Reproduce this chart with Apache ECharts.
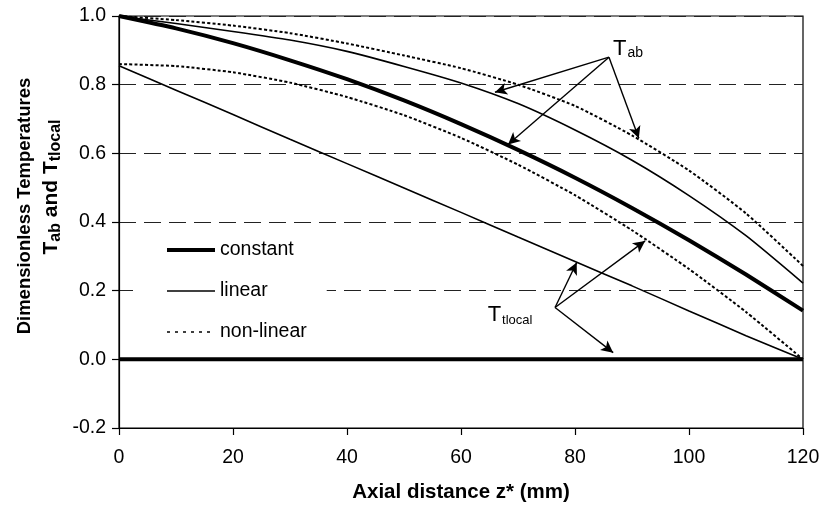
<!DOCTYPE html>
<html>
<head>
<meta charset="utf-8">
<script src="https://cdn.jsdelivr.net/npm/echarts@6/dist/echarts.min.js"></script>
<style>
html,body{margin:0;padding:0;background:#fff;}
#chart{width:822px;height:505px;}
</style>
</head>
<body>
<div id="chart"></div>
<script>
// Axial distance z* (mm)
var zValues = [0, 10, 20, 30, 40, 50, 60, 70, 80, 90, 100, 110, 120];
// T_ab (upper curves)
var tabConstant  = [1.000, 0.964, 0.921, 0.871, 0.816, 0.754, 0.685, 0.610, 0.529, 0.441, 0.347, 0.247, 0.142];
var tabLinear    = [1.000, 0.978, 0.955, 0.930, 0.897, 0.853, 0.805, 0.745, 0.668, 0.580, 0.477, 0.360, 0.222];
var tabNonLinear = [1.000, 0.988, 0.972, 0.950, 0.920, 0.885, 0.848, 0.800, 0.738, 0.652, 0.550, 0.425, 0.272];
// T_tlocal (lower curves)
var ttlConstant  = [0, 0, 0, 0, 0, 0, 0, 0, 0, 0, 0, 0, 0];
var ttlLinear    = [0.855, 0.784, 0.713, 0.641, 0.570, 0.499, 0.428, 0.356, 0.285, 0.214, 0.141, 0.069, 0.000];
var ttlNonLinear = [0.860, 0.854, 0.836, 0.806, 0.764, 0.711, 0.645, 0.567, 0.478, 0.376, 0.263, 0.138, 0.000];
// axis ticks
var xTicks = [0, 20, 40, 60, 80, 100, 120];
var yTicks = [-0.2, 0.0, 0.2, 0.4, 0.6, 0.8, 1.0];
var legendNames = ['constant', 'linear', 'non-linear'];
// annotation arrows [from z, from T, to z, to T]
var tabArrows = [[85.96, 0.880, 65.96, 0.778], [85.96, 0.880, 68.25, 0.626], [85.96, 0.880, 91.2, 0.644]];
var ttlArrows = [[76.5, 0.151, 80.3, 0.282], [76.5, 0.151, 92.3, 0.345], [76.5, 0.151, 86.7, 0.0195]];
var tabLabelAt = [89.3, 0.905];
var ttlLabelAt = [68.6, 0.128];

var FONT = '"Liberation Sans", Arial, Helvetica, sans-serif';
function pairs(arr) { return zValues.map(function (z, i) { return [z, arr[i]]; }); }
function arrows(list) {
  return list.map(function (a) { return [{coord: [a[0], a[1]]}, {coord: [a[2], a[3]]}]; });
}

var chart = echarts.init(document.getElementById('chart'), null, {renderer: 'canvas'});

var styles = {
  'constant':   {width: 4, type: 'solid', legendType: 'solid'},
  'linear':     {width: 1.6, type: 'solid', legendType: 'solid'},
  'non-linear': {width: 2, type: [3, 2.2], legendType: [3, 5]}
};
function mk(name, arr, extra) {
  var s = {
    name: name, type: 'line', data: pairs(arr), symbol: 'none', silent: true,
    animation: false, smooth: 0.2,
    lineStyle: {color: '#000', width: styles[name].width, type: styles[name].type},
    itemStyle: {color: '#000'},
    z: 3
  };
  if (extra) for (var k in extra) s[k] = extra[k];
  return s;
}

var richTab = {
  t: {fontSize: 22, fontFamily: FONT, color: '#000', lineHeight: 24},
  s: {fontSize: 14, fontFamily: FONT, color: '#000', lineHeight: 14, padding: [9, 0, 0, 1]}
};
var richTtl = {
  t: {fontSize: 22, fontFamily: FONT, color: '#000', lineHeight: 24},
  s: {fontSize: 13, fontFamily: FONT, color: '#000', lineHeight: 13, padding: [10, 0, 0, 1]}
};

var option = {
  backgroundColor: '#fff',
  animation: false,
  grid: {left: 119, right: 19, top: 16, bottom: 77, containLabel: false, outerBoundsMode: 'none',
    show: true, borderColor: '#000', borderWidth: 1.2, backgroundColor: 'transparent'},
  legend: {
    data: legendNames.map(function (n) {
      return {name: n, itemStyle: {opacity: 0},
        lineStyle: {width: n === 'non-linear' ? 1.6 : styles[n].width, type: styles[n].legendType, color: '#000'}};
    }),
    orient: 'vertical',
    left: 133, top: 232,
    itemWidth: 48, itemHeight: 14, itemGap: 21,
    padding: [8, 20, 8, 32],
    backgroundColor: '#fff',
    selectedMode: false,
    textStyle: {fontSize: 19.5, fontFamily: FONT, color: '#000', padding: [0, 0, 0, 0]}
  },
  xAxis: {
    type: 'value', min: 0, max: 120, interval: 20,
    name: 'Axial distance z* (mm)', nameLocation: 'middle', nameGap: 54,
    nameTextStyle: {fontSize: 20.5, fontWeight: 'bold', fontFamily: FONT, color: '#000'},
    axisLine: {show: true, onZero: false, lineStyle: {color: '#000', width: 1.2}},
    axisTick: {show: true, inside: false, length: 7, lineStyle: {color: '#000', width: 1.2}},
    axisLabel: {fontSize: 19.5, fontFamily: FONT, color: '#000', margin: 20,
      formatter: function (v) { return xTicks.indexOf(v) >= 0 ? String(v) : ''; }},
    splitLine: {show: false}
  },
  yAxis: {
    type: 'value', min: -0.2, max: 1.0, interval: 0.2,
    axisLine: {show: true, onZero: false, lineStyle: {color: '#000', width: 1.2}},
    axisTick: {show: true, inside: false, length: 7, lineStyle: {color: '#000', width: 1.2}},
    axisLabel: {fontSize: 19.5, fontFamily: FONT, color: '#000', margin: 13,
      formatter: function (v) { return (Math.round(v * 10) / 10).toFixed(1); }},
    splitLine: {show: true, lineStyle: {color: '#222', width: 1, type: [17, 8]}}
  },
  graphic: [
    {type: 'text', x: 25, y: 206, rotation: Math.PI / 2, z: 10,
      style: {text: 'Dimensionless Temperatures', font: 'bold 18.5px ' + FONT, fill: '#000', align: 'center', verticalAlign: 'middle'}},
    {type: 'text', x: 51, y: 187, rotation: Math.PI / 2, z: 10,
      style: {text: '{b|T}{s|ab}{b| and T}{s|tlocal}', align: 'center', verticalAlign: 'middle',
        rich: {
          b: {font: 'bold 21px ' + FONT, fill: '#000', lineHeight: 24},
          s: {font: 'bold 16px ' + FONT, fill: '#000', lineHeight: 16, padding: [9, 0, 0, 0]}
        }}}
  ],
  series: [
    mk('constant', tabConstant, {
      markLine: {
        silent: true, animation: false, symbol: ['none', 'arrow'], symbolSize: [9, 12],
        label: {show: false},
        lineStyle: {color: '#000', width: 1.4, type: 'solid'},
        data: arrows(tabArrows).concat(arrows(ttlArrows))
      },
      markPoint: {
        silent: true, animation: false, symbol: 'circle', symbolSize: 0,
        data: [
          {coord: tabLabelAt, label: {show: true, position: 'inside', formatter: '{t|T}{s|ab}', rich: richTab}},
          {coord: ttlLabelAt, label: {show: true, position: 'inside', formatter: '{t|T}{s|tlocal}', rich: richTtl}}
        ]
      }
    }),
    mk('linear', tabLinear),
    mk('non-linear', tabNonLinear),
    mk('constant', ttlConstant),
    mk('linear', ttlLinear),
    mk('non-linear', ttlNonLinear)
  ]
};
chart.setOption(option);
</script>
</body>
</html>
